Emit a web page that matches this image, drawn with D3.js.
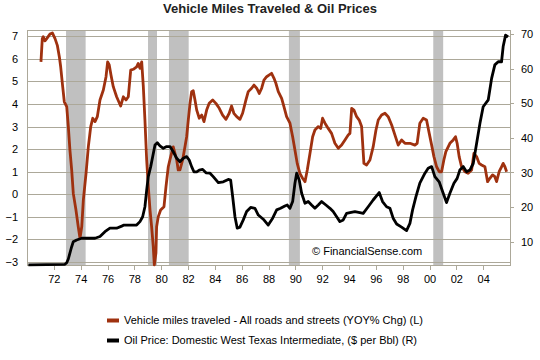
<!DOCTYPE html>
<html>
<head>
<meta charset="utf-8">
<script src="https://cdn.jsdelivr.net/npm/d3@7/dist/d3.min.js"></script>
<style>
  body { margin: 0; background: #fff; }
  svg text { font-family: "Liberation Sans", Arial, sans-serif; fill: #000; }
</style>
</head>
<body>
<div id="chart"></div>
<script>
// vehicle miles traveled, YoY % change (left axis)
const vmtYears = [1971.04, 1971.14, 1971.21, 1971.34, 1971.47, 1971.71, 1971.89, 1972.09, 1972.26, 1972.41,
  1972.51, 1972.66, 1972.78, 1972.96, 1973.08, 1973.20, 1973.33, 1973.45, 1973.65, 1973.82,
  1973.95, 1974.08, 1974.20, 1974.40, 1974.57, 1974.75, 1974.90, 1975.07, 1975.24, 1975.44,
  1975.69, 1975.89, 1976.01, 1976.13, 1976.26, 1976.43, 1976.68, 1976.98, 1977.18, 1977.38,
  1977.55, 1977.73, 1977.92, 1978.17, 1978.29, 1978.42, 1978.55, 1978.67, 1978.79, 1978.92,
  1979.04, 1979.17, 1979.29, 1979.41, 1979.49, 1979.61, 1979.66, 1979.78, 1979.96, 1980.21,
  1980.36, 1980.53, 1980.71, 1980.90, 1981.16, 1981.27, 1981.40, 1981.60, 1981.77, 1981.90,
  1982.02, 1982.15, 1982.27, 1982.39, 1982.52, 1982.65, 1982.84, 1983.02, 1983.19, 1983.39,
  1983.58, 1983.84, 1984.08, 1984.33, 1984.58, 1984.83, 1985.07, 1985.25, 1985.42, 1985.63,
  1985.87, 1986.07, 1986.32, 1986.49, 1986.74, 1986.92, 1987.12, 1987.31, 1987.49, 1987.66,
  1987.86, 1988.06, 1988.23, 1988.41, 1988.55, 1988.73, 1988.98, 1989.15, 1989.35, 1989.60,
  1989.80, 1989.97, 1990.14, 1990.34, 1990.54, 1990.72, 1990.89, 1991.09, 1991.29, 1991.46,
  1991.71, 1991.89, 1992.03, 1992.21, 1992.45, 1992.70, 1992.95, 1993.20, 1993.45, 1993.70,
  1993.94, 1994.07, 1994.20, 1994.37, 1994.57, 1994.76, 1994.94, 1995.11, 1995.31, 1995.56,
  1995.80, 1996.01, 1996.18, 1996.43, 1996.68, 1996.92, 1997.18, 1997.42, 1997.67, 1997.92,
  1998.17, 1998.54, 1998.91, 1999.08, 1999.28, 1999.53, 1999.78, 1999.98, 2000.16, 2000.33,
  2000.53, 2000.72, 2000.90, 2001.07, 2001.22, 2001.52, 2001.77, 2001.94, 2002.06, 2002.21,
  2002.39, 2002.64, 2002.88, 2003.14, 2003.31, 2003.51, 2003.70, 2003.88, 2004.13, 2004.33,
  2004.50, 2004.70, 2004.87, 2005.00, 2005.19, 2005.37, 2005.49, 2005.62, 2005.75];
const vmtValues = [5.87, 6.9, 6.98, 6.8, 6.9, 7.1, 7.15, 6.9, 6.6, 6.1,
  5.65, 4.77, 4.1, 3.88, 3.0, 1.96, 1.08, 0.04, -0.7, -1.44,
  -1.95, -1.44, -0.25, 0.93, 2.1, 3.0, 3.37, 3.22, 3.44, 4.18,
  4.62, 5.21, 5.87, 5.73, 5.29, 4.77, 4.32, 3.91, 4.32, 4.18,
  4.32, 5.5, 5.54, 5.65, 5.8, 5.58, 5.87, 4.77, 3.29, 1.52,
  0.34, -0.7, -1.44, -2.32, -3.13, -2.6, -1.44, -1.0, -0.7, -0.55,
  0.34, 1.22, 1.67, 2.1, 1.52, 1.08, 1.08, 1.52, 2.1, 2.55,
  3.29, 4.03, 4.55, 4.59, 4.18, 3.73, 3.37, 3.51, 3.22, 3.73,
  4.03, 4.18, 4.03, 3.81, 3.51, 3.32, 3.59, 3.91, 3.59, 3.44,
  3.32, 3.59, 4.18, 4.55, 4.7, 4.84, 4.7, 4.47, 4.7, 5.06,
  5.21, 5.29, 5.36, 5.14, 4.92, 4.55, 4.25, 3.88, 3.44, 3.15,
  2.55, 1.96, 1.37, 0.93, 0.71, 0.56, 1.08, 1.81, 2.55, 2.85,
  3.0, 2.92, 3.37, 3.15, 2.92, 2.7, 2.26, 2.04, 2.18, 2.41,
  2.63, 2.7, 3.81, 3.73, 3.44, 3.29, 3.0, 1.37, 1.3, 1.52,
  2.1, 2.85, 3.29, 3.51, 3.59, 3.44, 3.07, 2.63, 2.18, 2.41,
  2.26, 2.26, 2.18, 2.26, 3.15, 3.37, 3.29, 2.7, 2.18, 1.67,
  1.22, 1.0, 1.0, 1.52, 1.89, 2.26, 2.41, 2.55, 2.26, 1.67,
  1.22, 1.0, 0.93, 1.08, 1.81, 1.67, 1.37, 1.3, 1.22, 0.56,
  0.71, 0.86, 0.78, 0.56, 1.0, 1.22, 1.37, 1.22, 1.0];

// WTI oil price, $ per bbl (right axis)
const oilYears = [1970.10, 1972.83, 1972.96, 1973.08, 1973.26, 1973.33, 1973.45, 1973.70, 1974.08, 1975.07,
  1975.44, 1975.81, 1976.18, 1976.68, 1977.06, 1977.23, 1978.17, 1978.42, 1978.62, 1978.79,
  1978.92, 1979.04, 1979.22, 1979.37, 1979.54, 1979.71, 1979.91, 1980.16, 1980.41, 1980.66,
  1980.90, 1981.16, 1981.40, 1981.65, 1981.90, 1982.09, 1982.27, 1982.44, 1982.65, 1982.84,
  1983.09, 1983.34, 1983.64, 1983.88, 1984.26, 1984.63, 1985.00, 1985.18, 1985.33, 1985.50,
  1985.67, 1985.87, 1986.12, 1986.37, 1986.67, 1986.99, 1987.24, 1987.61, 1987.98, 1988.31,
  1988.61, 1988.90, 1989.22, 1989.40, 1989.60, 1989.80, 1989.97, 1990.10, 1990.29, 1990.47,
  1990.72, 1990.96, 1991.21, 1991.46, 1991.71, 1991.96, 1992.28, 1992.58, 1992.82, 1993.08,
  1993.32, 1993.57, 1993.82, 1994.07, 1994.44, 1994.81, 1995.06, 1995.43, 1995.80, 1996.25,
  1996.50, 1996.80, 1997.05, 1997.29, 1997.55, 1997.92, 1998.29, 1998.54, 1998.74, 1998.99,
  1999.28, 1999.66, 1999.90, 2000.16, 2000.40, 2000.72, 2001.02, 2001.27, 2001.52, 2001.82,
  2002.06, 2002.26, 2002.51, 2002.76, 2003.01, 2003.26, 2003.51, 2003.76, 2004.00, 2004.38,
  2004.63, 2004.87, 2005.12, 2005.37, 2005.49, 2005.67, 2005.86];
const oilValues = [3.3, 3.47, 3.9, 5.0, 7.6, 8.55, 10.0, 10.5, 11.0, 11.0,
  11.5, 12.9, 13.9, 13.9, 14.5, 14.8, 14.8, 15.8, 17.2, 20.1,
  24.9, 28.8, 31.7, 34.6, 37.95, 38.6, 37.7, 37.0, 37.5, 37.5,
  36.0, 34.1, 33.1, 34.1, 34.6, 33.6, 31.7, 30.2, 30.2, 30.7,
  30.9, 29.9, 29.8, 28.8, 27.05, 27.3, 28.0, 27.8, 23.0, 17.2,
  13.9, 14.2, 16.3, 18.7, 19.9, 19.65, 17.7, 16.5, 14.8, 16.8,
  19.2, 19.65, 20.3, 20.6, 19.65, 21.6, 26.9, 29.8, 27.8, 24.0,
  21.1, 21.6, 20.6, 19.65, 20.6, 21.6, 20.6, 19.65, 18.7, 17.2,
  15.8, 16.3, 18.2, 18.4, 18.7, 18.4, 18.2, 20.1, 22.05, 24.2,
  21.6, 20.1, 19.65, 16.8, 15.1, 14.2, 13.2, 15.3, 19.2, 23.0,
  26.9, 29.8, 31.2, 31.7, 28.8, 27.3, 24.0, 21.3, 24.0, 26.9,
  28.3, 30.7, 31.7, 30.2, 30.7, 32.6, 38.4, 44.2, 49.0, 51.0,
  57.2, 61.1, 62.0, 62.0, 66.4, 69.7, 69.2];

// shaded recession bands, as placed on this chart's time axis
const recessionStarts = [1972.91, 1979.02, 1980.58, 1989.52, 2000.28];
const recessionEnds = [1974.37, 1979.69, 1982.05, 1990.34, 2001.02];

const xTickYears = [1972, 1974, 1976, 1978, 1980, 1982, 1984, 1986, 1988, 1990,
  1992, 1994, 1996, 1998, 2000, 2002, 2004];
const leftTicks = [-3, -2, -1, 0, 1, 2, 3, 4, 5, 6, 7];
const rightTicks = [10, 20, 30, 40, 50, 60, 70];

const seriesNames = [
  "Vehicle miles traveled - All roads and streets (YOY% Chg) (L)",
  "Oil Price: Domestic West Texas Intermediate, ($ per Bbl) (R)"
];
const seriesColors = ["#9f310f", "#000000"];

const width = 540, height = 360;
const plot = { left: 27, right: 510, top: 30, bottom: 265.5 };
const gridColor = "#aca899";

const svg = d3.select("#chart").append("svg")
  .attr("width", width)
  .attr("height", height);

const x = d3.scaleLinear().domain([1970, 2006]).range([plot.left, plot.right]);
const yLeft = d3.scaleLinear().domain([-3.155, 7.28]).range([plot.bottom, plot.top]);
const yRight = d3.scaleLinear().domain([3.12, 71.18]).range([plot.bottom, plot.top]);

// title
svg.append("text")
  .attr("x", 270)
  .attr("y", 13)
  .attr("text-anchor", "middle")
  .style("font-size", "13px")
  .style("font-weight", "bold")
  .style("fill", "#222")
  .text("Vehicle Miles Traveled & Oil Prices");

// recessions go under the grid
svg.append("g")
  .selectAll("rect")
  .data(d3.zip(recessionStarts, recessionEnds))
  .join("rect")
  .attr("x", d => x(d[0]))
  .attr("width", d => x(d[1]) - x(d[0]))
  .attr("y", plot.top)
  .attr("height", plot.bottom - plot.top)
  .attr("fill", "#c0c0c0");

// left axis with gridlines
const leftAxis = svg.append("g")
  .attr("transform", `translate(${plot.left},0)`)
  .call(d3.axisLeft(yLeft)
    .tickValues(leftTicks)
    .tickSizeInner(-(plot.right - plot.left))
    .tickSizeOuter(0)
    .tickPadding(9)
    .tickFormat(d3.format("d")));
leftAxis.select(".domain").remove();
leftAxis.selectAll("line").attr("stroke", gridColor).attr("shape-rendering", "crispEdges");
leftAxis.selectAll("text").style("font-size", "11px");

// plot border
svg.append("rect")
  .attr("x", plot.left)
  .attr("y", plot.top)
  .attr("width", plot.right - plot.left)
  .attr("height", plot.bottom - plot.top)
  .attr("fill", "none")
  .attr("stroke", gridColor)
  .attr("shape-rendering", "crispEdges");

// right axis
const rightAxis = svg.append("g")
  .attr("transform", `translate(${plot.right},0)`)
  .call(d3.axisRight(yRight)
    .tickValues(rightTicks)
    .tickSize(4)
    .tickPadding(7));
rightAxis.select(".domain").remove();
rightAxis.selectAll("line").attr("stroke", gridColor).attr("shape-rendering", "crispEdges");
rightAxis.selectAll("text").style("font-size", "11px");

// bottom axis
const bottomAxis = svg.append("g")
  .attr("transform", `translate(0,${plot.bottom})`)
  .call(d3.axisBottom(x)
    .tickValues(xTickYears)
    .tickSize(4)
    .tickPadding(6)
    .tickFormat(d => d3.format("02d")(d % 100)));
bottomAxis.select(".domain").remove();
bottomAxis.selectAll("line").attr("stroke", gridColor).attr("shape-rendering", "crispEdges");
bottomAxis.selectAll("text").style("font-size", "11px");

// the two series, oil drawn last so it sits on top
const vmtLine = d3.line().x(d => x(d[0])).y(d => yLeft(d[1]));
const oilLine = d3.line().x(d => x(d[0])).y(d => yRight(d[1]));

svg.append("path")
  .datum(d3.zip(vmtYears, vmtValues))
  .attr("d", vmtLine)
  .attr("fill", "none")
  .attr("stroke", seriesColors[0])
  .attr("stroke-width", 2.8)
  .attr("stroke-linejoin", "round");

svg.append("path")
  .datum(d3.zip(oilYears, oilValues))
  .attr("d", oilLine)
  .attr("fill", "none")
  .attr("stroke", seriesColors[1])
  .attr("stroke-width", 2.8)
  .attr("stroke-linejoin", "round");

// watermark
svg.append("text")
  .attr("x", 312)
  .attr("y", 255)
  .style("font-size", "11px")
  .text("\u00a9 FinancialSense.com");

// legend
const legend = svg.append("g")
  .selectAll("g")
  .data(seriesNames)
  .join("g")
  .attr("transform", (d, i) => `translate(107,${320.5 + i * 20})`);

legend.append("line")
  .attr("x1", 0)
  .attr("x2", 12)
  .attr("stroke", (d, i) => seriesColors[i])
  .attr("stroke-width", 4);

legend.append("text")
  .attr("x", 17)
  .attr("dy", "0.35em")
  .style("font-size", "11px")
  .text(d => d);
</script>
</body>
</html>
